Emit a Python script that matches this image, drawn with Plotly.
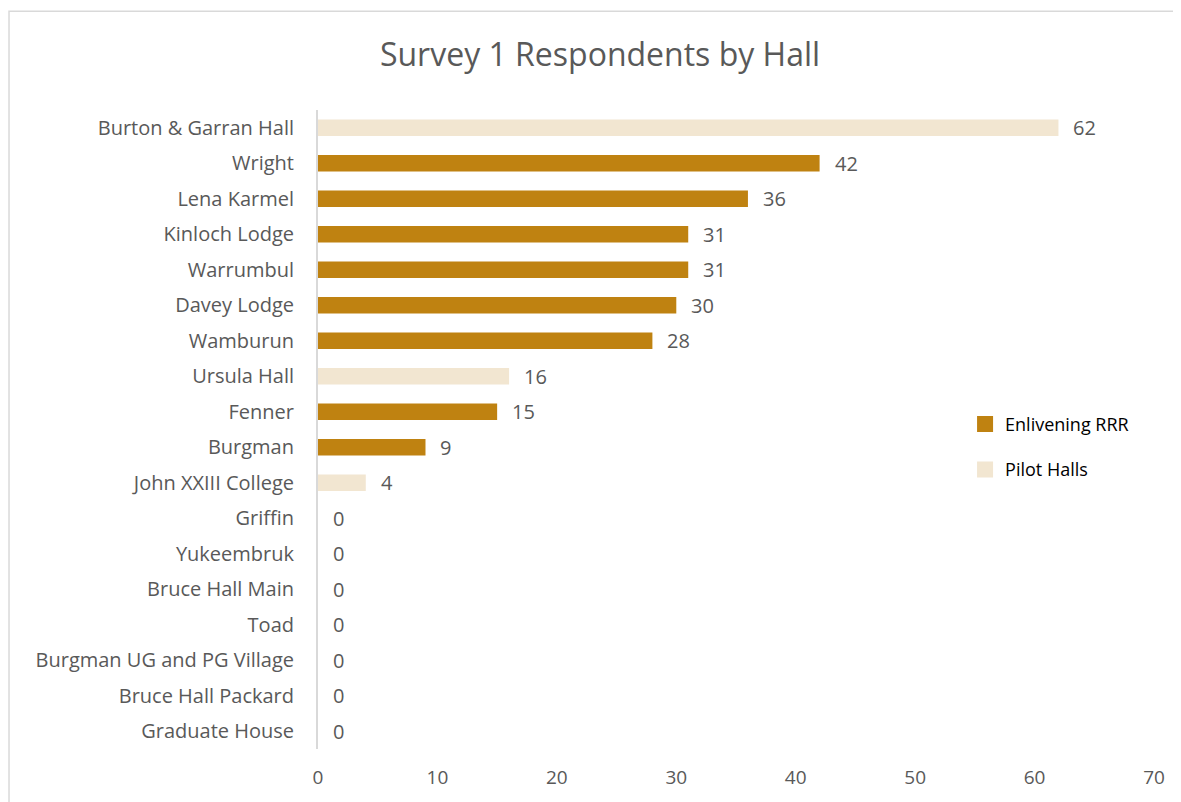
import plotly.graph_objects as go

categories = ["Burton & Garran Hall", "Wright", "Lena Karmel", "Kinloch Lodge", "Warrumbul",
              "Davey Lodge", "Wamburun", "Ursula Hall", "Fenner", "Burgman", "John XXIII College",
              "Griffin", "Yukeembruk", "Bruce Hall Main", "Toad", "Burgman UG and PG Village",
              "Bruce Hall Packard", "Graduate House"]
values = [62, 42, 36, 31, 31, 30, 28, 16, 15, 9, 4, 0, 0, 0, 0, 0, 0, 0]
series = ["Pilot Halls", "Enlivening RRR", "Enlivening RRR", "Enlivening RRR", "Enlivening RRR",
          "Enlivening RRR", "Enlivening RRR", "Pilot Halls", "Enlivening RRR", "Enlivening RRR",
          "Pilot Halls", "Enlivening RRR", "Enlivening RRR", "Enlivening RRR", "Enlivening RRR",
          "Enlivening RRR", "Enlivening RRR", "Enlivening RRR"]
series_names = ["Enlivening RRR", "Pilot Halls"]
colors = {"Enlivening RRR": "#BF8211", "Pilot Halls": "#F2E6D1"}
x_ticks = [0, 10, 20, 30, 40, 50, 60, 70]

FONT = "'Open Sans', sans-serif"
GREY = "#595959"

fig = go.Figure()
for name in series_names:
    ys = [c for c, s in zip(categories, series) if s == name]
    xs = [v for v, s in zip(values, series) if s == name]
    fig.add_trace(go.Bar(
        x=xs, y=ys, orientation="h", name=name,
        marker=dict(color=colors[name], line=dict(width=0)),
        width=0.46, showlegend=False,
    ))
# legend entries with larger square swatches
for name in series_names:
    fig.add_trace(go.Scatter(
        x=[None], y=[None], mode="markers", name=name, legendgroup=name,
        marker=dict(symbol="square", size=16, color=colors[name]),
    ))

for c, v in zip(categories, values):
    fig.add_annotation(x=v, y=c, text=str(v), showarrow=False, xanchor="left",
                       xshift=13, font=dict(family=FONT, size=20, color=GREY))

fig.add_shape(type="rect", xref="paper", yref="paper",
              x0=-0.3696, x1=1.05, y0=-0.1, y1=1.1545,
              line=dict(color="#D9D9D9", width=1.5), fillcolor="rgba(0,0,0,0)", layer="below")

fig.update_layout(
    width=1173, height=794,
    paper_bgcolor="white", plot_bgcolor="white",
    margin=dict(l=310, r=27, t=102, b=51),
    barmode="overlay",
    title=dict(text="Survey 1 Respondents by Hall", x=0.5047, xref="container", xanchor="center",
               y=0.941, yref="container", yanchor="middle",
               font=dict(family=FONT, size=32, color=GREY)),
    showlegend=True,
    legend=dict(x=0.774, y=0.537, xanchor="left", yanchor="top",
                font=dict(family=FONT, size=18, color="#000000"),
                itemsizing="trace", tracegroupgap=19, bgcolor="rgba(0,0,0,0)"),
    xaxis=dict(range=[0, 70], tickvals=x_ticks, showgrid=False, zeroline=False,
               showline=False, ticks="", ticklabelstandoff=15,
               tickfont=dict(family=FONT, size=19, color=GREY), fixedrange=True),
    yaxis=dict(categoryorder="array", categoryarray=categories, autorange="reversed",
               showgrid=False, zeroline=False, showline=True, linecolor="#D9D9D9", linewidth=2,
               ticks="", ticklabelstandoff=18,
               tickfont=dict(family=FONT, size=20, color=GREY)),
)

fig.write_html("out.html")
